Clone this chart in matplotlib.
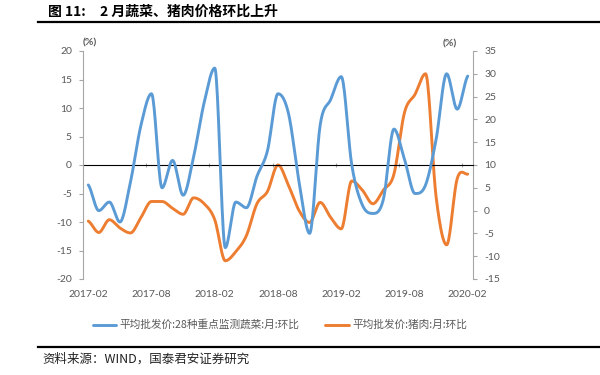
import numpy as np
import matplotlib
matplotlib.use("Agg")
import matplotlib.pyplot as plt
from matplotlib.lines import Line2D

# ---------------- data ----------------
months = ["2017-02", "2017-03", "2017-04", "2017-05", "2017-06", "2017-07", "2017-08",
          "2017-09", "2017-10", "2017-11", "2017-12", "2018-01", "2018-02", "2018-03",
          "2018-04", "2018-05", "2018-06", "2018-07", "2018-08", "2018-09", "2018-10",
          "2018-11", "2018-12", "2019-01", "2019-02", "2019-03", "2019-04", "2019-05",
          "2019-06", "2019-07", "2019-08", "2019-09", "2019-10", "2019-11", "2019-12",
          "2020-01", "2020-02"]
veg = [-3.5, -8.0, -6.5, -10.0, -3.0, 7.0, 12.5, -4.0, 0.8, -5.3, 1.5, 11.0, 17.0,
       -14.5, -6.5, -7.5, -2.0, 2.5, 12.5, 9.0, -3.0, -12.0, 7.0, 11.5, 15.5, 0.0,
       -7.0, -8.5, -6.0, 6.3, 1.0, -5.0, -3.5, 4.5, 16.0, 9.8, 15.6]
pork = [-2.3, -4.8, -2.0, -3.8, -4.9, -1.5, 2.0, 2.0, 0.5, -0.8, 2.8, 1.5, -2.0,
        -11.0, -9.0, -5.5, 1.5, 4.2, 10.0, 5.5, 0.0, -2.6, 1.8, -1.5, -4.0, 6.5,
        4.5, 1.5, 4.5, 8.0, 21.5, 25.5, 30.0, 3.0, -7.5, 7.0, 8.0]
label_months = ["2017-02", "2017-08", "2018-02", "2018-08", "2019-02", "2019-08", "2020-02"]
left_ticks = list(range(-20, 21, 5))
right_ticks = list(range(-15, 36, 5))
veg_name = "平均批发价:28种重点监测蔬菜:月:环比"
pork_name = "平均批发价:猪肉:月:环比"
title_num = "图 11:"
title_txt = "2 月蔬菜、猪肉价格环比上升"
source_txt = "资料来源：WIND，国泰君安证券研究"

BLUE = "#5B9BD5"
ORANGE = "#ED7D31"
GRAY = "#595959"
AXC = "#A6A6A6"

CJK = ["Noto Sans CJK SC", "DejaVu Sans"]


def smooth(y, n=20):
    """Cubic Hermite path through the points (smoothed line, flat at extrema)."""
    y = np.asarray(y, float)
    x = np.arange(len(y), dtype=float)
    m = np.zeros_like(y)
    m[1:-1] = (y[2:] - y[:-2]) / 2.0
    for i in range(1, len(y) - 1):
        if (y[i] - y[i - 1]) * (y[i + 1] - y[i]) <= 0:
            m[i] = 0.0
    m[0] = (y[1] - y[0]) * 0.5
    m[-1] = (y[-1] - y[-2]) * 0.5
    xs, ys = [], []
    for i in range(len(y) - 1):
        t = np.linspace(0, 1, n, endpoint=False)
        h00 = 2 * t**3 - 3 * t**2 + 1
        h10 = t**3 - 2 * t**2 + t
        h01 = -2 * t**3 + 3 * t**2
        h11 = t**3 - t**2
        xs.append(x[i] + t)
        ys.append(h00 * y[i] + h10 * m[i] + h01 * y[i + 1] + h11 * m[i + 1])
    xs.append([x[-1]])
    ys.append([y[-1]])
    return np.concatenate(xs), np.concatenate(ys)


fig = plt.figure(figsize=(6, 3.75), dpi=100)
ax = fig.add_axes([83 / 600, 1 - 279 / 375, 390 / 600, 228 / 375])
ax2 = ax.twinx()

xv, yv = smooth(veg)
xp, yp = smooth(pork)
lv, = ax.plot(xv, yv, color=BLUE, lw=2.1, solid_capstyle="round", zorder=3)
lp, = ax2.plot(xp, yp, color=ORANGE, lw=2.1, solid_capstyle="round", zorder=3)

n = len(months)
ax.set_xlim(-0.5, n - 0.5)
ax.set_ylim(-20, 20)
ax2.set_ylim(-15, 35)

# zero line with category tick marks
sec = ax.secondary_xaxis(0.5)
sec.set_xticks([-0.5 + 6 * k for k in range(1, 7)])
sec.set_xticklabels([])
sec.tick_params(axis="x", length=3, width=0.8, color=AXC, direction="inout")
sec.spines["bottom"].set_color(AXC)
sec.spines["bottom"].set_linewidth(1.0)

# x labels at the bottom
pos = [months.index(m) for m in label_months]
ax.set_xticks(pos)
ax.set_xticklabels(label_months)
ax.tick_params(axis="x", length=0, pad=8, labelsize=7.5, labelcolor=GRAY)
for lab in ax.get_xticklabels():
    lab.set_fontfamily("Lato")

for s in ["top", "bottom"]:
    ax.spines[s].set_visible(False)
    ax2.spines[s].set_visible(False)
ax.spines["right"].set_visible(False)
ax2.spines["left"].set_visible(False)
ax.spines["left"].set_color(AXC)
ax2.spines["right"].set_color(AXC)

ax.set_yticks(left_ticks)
ax.set_yticklabels([str(v) for v in left_ticks])
ax.tick_params(axis="y", length=3, width=0.8, color=AXC, pad=5, labelsize=7.5, labelcolor=GRAY)
ax2.set_yticks(right_ticks)
ax2.set_yticklabels([str(v) for v in right_ticks])
ax2.tick_params(axis="y", length=3, width=0.8, color=AXC, pad=5, labelsize=7.5, labelcolor=GRAY)
for lab in ax.get_yticklabels() + ax2.get_yticklabels():
    lab.set_fontfamily("Lato")
ax.set_zorder(ax2.get_zorder() + 1)
ax.patch.set_visible(False)

fig.text(90 / 600, 1 - 43 / 375, "(%)", ha="center", va="center", fontsize=7.5,
         color=GRAY, fontweight="bold", family="Lato")
fig.text(450 / 600, 1 - 44 / 375, "(%)", ha="center", va="center", fontsize=7.5,
         color=GRAY, fontweight="bold", family="Lato")

leg = fig.legend([lv, lp], [veg_name, pork_name], loc="center",
                 bbox_to_anchor=(280 / 600, 1 - 325 / 375), ncol=2, frameon=False,
                 handlelength=2.2, handletextpad=0.35, columnspacing=2.4,
                 prop={"family": CJK, "size": 7.7})
for t in leg.get_texts():
    t.set_color(GRAY)

# title and source
fig.text(48 / 600, 1 - 12 / 375, title_num, ha="left", va="center", fontsize=10,
         fontweight="bold", family=CJK)
fig.text(100 / 600, 1 - 12 / 375, title_txt, ha="left", va="center", fontsize=10,
         fontweight="bold", family=CJK)
fig.add_artist(Line2D([38 / 600, 1.0], [1 - 22 / 375] * 2, color="black", lw=1.6,
                      transform=fig.transFigure))
fig.add_artist(Line2D([38 / 600, 1.0], [1 - 347 / 375] * 2, color="black", lw=1.6,
                      transform=fig.transFigure))
fig.text(42 / 600, 1 - 359 / 375, source_txt, ha="left", va="center", fontsize=9,
         family=CJK, color="#222222")

fig.savefig("out.png", dpi=100)
